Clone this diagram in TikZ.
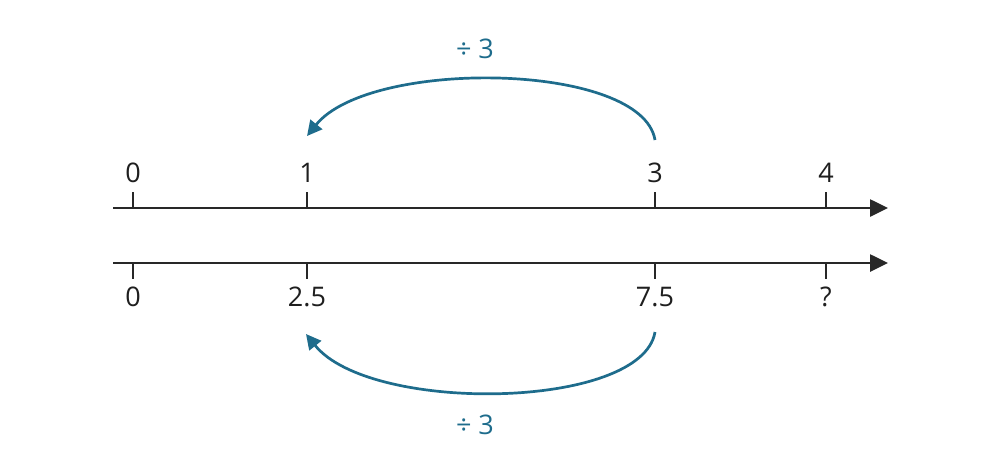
\documentclass[tikz,border=0pt]{standalone}
\usepackage{fontspec}
\setmainfont{Open Sans}
\usetikzlibrary{arrows.meta}
\definecolor{arcblue}{RGB}{30,108,140}
\definecolor{axisgray}{RGB}{40,40,40}
\tikzset{
  axisline/.style={draw=axisgray,line width=2.6pt,-{Triangle[length=18pt,width=17pt]}},
  tickmark/.style={draw=axisgray,line width=2.6pt},
  lab/.style={font=\fontsize{27}{30}\selectfont,text=black!88,inner sep=0pt,anchor=center},
  oplab/.style={font=\fontsize{27}{30}\selectfont,text=arcblue,inner sep=0pt,anchor=center},
  arcarrow/.style={draw=arcblue,line width=2.7pt,-{Triangle[length=15pt,width=15pt]}}
}
\begin{document}
\begin{tikzpicture}[x=1pt,y=-1pt]
\useasboundingbox[fill=white] (0,0) rectangle (987,466);
% upper axis
\coordinate (ua) at (113,208);
\coordinate (ub) at (888,208);
\draw[axisline] (ua) -- (ub);
\coordinate (ut0) at (133,208); \coordinate (ut0e) at (133,192);
\coordinate (ut1) at (307,208); \coordinate (ut1e) at (307,192);
\coordinate (ut3) at (655,208); \coordinate (ut3e) at (655,192);
\coordinate (ut4) at (826,208); \coordinate (ut4e) at (826,192);
\draw[tickmark] (ut0) -- (ut0e);
\draw[tickmark] (ut1) -- (ut1e);
\draw[tickmark] (ut3) -- (ut3e);
\draw[tickmark] (ut4) -- (ut4e);
\node[lab] (u0) at (133,173) {0};
\node[lab] (u1) at (307,173) {1};
\node[lab] (u3) at (655,173) {3};
\node[lab] (u4) at (826,173) {4};
% lower axis
\coordinate (la) at (113,263);
\coordinate (lb) at (888,263);
\draw[axisline] (la) -- (lb);
\coordinate (lt0) at (133,263); \coordinate (lt0e) at (133,279);
\coordinate (lt1) at (307,263); \coordinate (lt1e) at (307,279);
\coordinate (lt3) at (655,263); \coordinate (lt3e) at (655,279);
\coordinate (lt4) at (826,263); \coordinate (lt4e) at (826,279);
\draw[tickmark] (lt0) -- (lt0e);
\draw[tickmark] (lt1) -- (lt1e);
\draw[tickmark] (lt3) -- (lt3e);
\draw[tickmark] (lt4) -- (lt4e);
\node[lab] (l0) at (133,297) {0};
\node[lab] (l1) at (307,297) {2.5};
\node[lab] (l3) at (655,297) {7.5};
\node[lab] (l4) at (826,297) {?};
% arcs
\coordinate (uas) at (655,140);
\coordinate (uae) at (307,136);
\draw[arcarrow] (uas) .. controls (642,62) and (370,58) .. (uae);
\node[oplab] (uop) at (475,49) {÷ 3};
\coordinate (las) at (655,332);
\coordinate (lae) at (306,334);
\draw[arcarrow] (las) .. controls (642,410) and (370,414) .. (lae);
\node[oplab] (lop) at (475,425) {÷ 3};
\end{tikzpicture}
\end{document}
